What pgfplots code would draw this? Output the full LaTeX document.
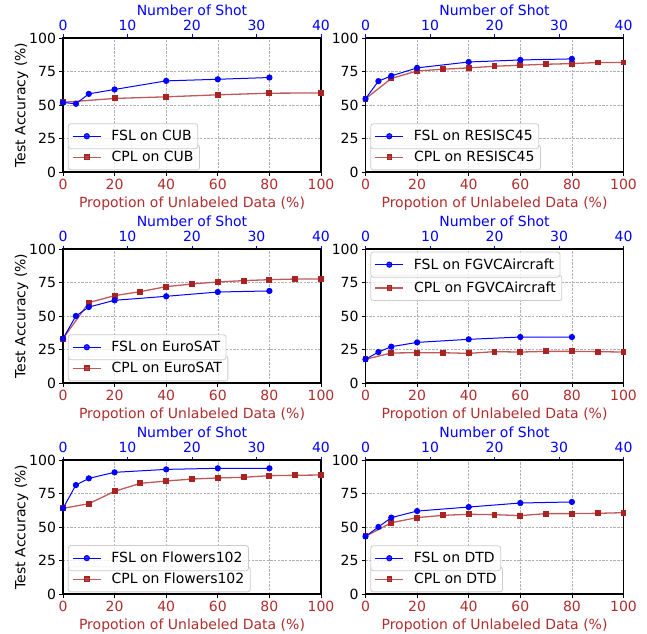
\documentclass[border=0pt]{standalone}
\usepackage{fontspec}
\setmainfont{DejaVu Sans}
\usepackage{pgfplots}
\usepackage{pgfplotstable}
\pgfplotsset{compat=1.18}
\definecolor{fslblue}{RGB}{0,0,255}
\definecolor{cplred}{RGB}{170,35,35}
\definecolor{cpltext}{RGB}{175,45,45}
\definecolor{gridgray}{RGB}{176,176,176}
\definecolor{legedge}{RGB}{204,204,204}

% ---------------- data ----------------
\pgfplotstableread{
x y
0 52.0
20 54.9
40 56.1
60 57.6
80 58.8
100 59.0
}\cubCPL
\pgfplotstableread{
s y
0 51.9
2 50.9
4 58.3
8 61.6
16 68.0
24 69.2
32 70.5
}\cubFSL
\pgfplotstableread{
x y
0 54.6
10 69.8
20 75.4
30 76.7
40 77.7
50 78.9
60 79.7
70 80.4
80 80.9
90 81.7
100 81.7
}\resCPL
\pgfplotstableread{
s y
0 54.6
2 67.8
4 71.7
8 77.7
16 82.1
24 83.6
32 84.4
}\resFSL
\pgfplotstableread{
x y
0 33.1
10 60.0
20 65.2
30 68.2
40 71.9
50 73.9
60 75.4
70 76.4
80 77.1
90 77.6
100 77.6
}\eurCPL
\pgfplotstableread{
s y
0 33.1
2 50.0
4 56.7
8 61.7
16 64.7
24 67.9
32 68.7
}\eurFSL
\pgfplotstableread{
x y
0 17.7
10 22.4
20 22.6
30 22.6
40 22.1
50 23.4
60 23.1
70 23.6
80 23.6
90 23.4
100 23.1
}\fgvCPL
\pgfplotstableread{
s y
0 17.7
2 23.1
4 27.1
8 30.3
16 32.6
24 34.3
32 34.3
}\fgvFSL
\pgfplotstableread{
x y
0 63.9
10 67.4
20 76.6
30 82.6
40 84.3
50 85.8
60 86.6
70 87.1
80 88.3
90 88.6
100 88.8
}\floCPL
\pgfplotstableread{
s y
0 63.9
2 81.3
4 86.3
8 90.8
16 93.0
24 93.8
32 93.8
}\floFSL
\pgfplotstableread{
x y
0 43.0
10 53.2
20 57.0
30 58.7
40 59.5
50 59.2
60 58.5
70 60.0
80 60.0
90 60.2
100 60.7
}\dtdCPL
\pgfplotstableread{
s y
0 43.0
2 50.0
4 57.0
8 61.9
16 64.9
24 67.9
32 68.7
}\dtdFSL

\newcommand{\fs}{\fontsize{14}{16}\selectfont}

\pgfplotsset{
  panelbase/.style={
    scale only axis, width=258pt, height=134pt,
    ymin=0, ymax=100, ytick={0,25,50,75,100},
    clip=false,
    /pgf/number format/assume math mode=true,
    tick label style={font=\fs},
    label style={font=\fs},
    tick align=outside,
    major tick length=3.5pt,
    legend image code/.code={\draw[mark repeat=2,mark phase=2,##1] plot coordinates {(0pt,0pt) (14pt,0pt) (28pt,0pt)};},
    legend style={font=\fs, draw=legedge, rounded corners=2.5pt, fill=white, fill opacity=0.8, text opacity=1,
      inner xsep=4pt, inner ysep=4.5pt, line width=0.8pt, cells={anchor=west}, column sep=8pt},
  },
  mainax/.style={panelbase,
    xmin=0, xmax=100, xtick={0,20,...,100},
    xtick pos=left, ytick pos=left,
    grid=major,
    grid style={gridgray, dash pattern=on 2.4pt off 1.3pt, line width=0.6pt},
    axis line style={line width=1.3pt},
    major tick style={line width=0.8pt, black},
    xlabel={Propotion of Unlabeled Data (\%)},
    xlabel style={text=cpltext},
    xticklabel style={text=cpltext},
    ylabel style={yshift=-6pt},
  },
  topax/.style={panelbase,
    xmin=0, xmax=40, xtick={0,10,...,40},
    axis x line*=top, axis y line=none,
    x axis line style={line width=1.3pt, black},
    major tick style={line width=0.8pt, fslblue},
    xlabel={Number of Shot},
    xlabel style={text=fslblue, yshift=-2pt},
    xticklabel style={text=fslblue},
  },
  fslplot/.style={fslblue, line width=1pt, mark=*, mark size=2.6pt, mark options={fill=fslblue, draw=fslblue}},
  cplplot/.style={cplred!75!white, line width=1.3pt, mark=square*, mark size=2.3pt, mark options={fill=cplred, draw=cplred}},
}

\newcommand{\panel}[8]{%
\begin{axis}[mainax, at={#1}, anchor=south west, ylabel={#5}, legend style={#7}]
\addplot[cplplot] table[x=x,y=y] {#2};
\addlegendentry{CPL on #4}
\end{axis}
\begin{axis}[topax, at={#1}, anchor=south west, legend style={#6}]
\addplot[fslplot] table[x=s,y=y] {#3};
\addlegendentry{FSL on #4}
\end{axis}
}

\begin{document}
\begin{tikzpicture}
\useasboundingbox (0,0) rectangle (647pt,633pt);
\panel{(63pt,461pt)}{\cubCPL}{\cubFSL}{CUB}{Test Accuracy (\%)}%
  {at={(0.019,0.171)},anchor=south west}{at={(0.019,0.013)},anchor=south west}{}
\panel{(365.5pt,461pt)}{\resCPL}{\resFSL}{RESISC45}{}%
  {at={(0.019,0.171)},anchor=south west}{at={(0.019,0.013)},anchor=south west}{}
\panel{(63pt,250pt)}{\eurCPL}{\eurFSL}{EuroSAT}{Test Accuracy (\%)}%
  {at={(0.019,0.171)},anchor=south west}{at={(0.019,0.013)},anchor=south west}{}
\panel{(365.5pt,250pt)}{\fgvCPL}{\fgvFSL}{FGVCAircraft}{}%
  {at={(0.019,0.98)},anchor=north west}{at={(0.019,0.806)},anchor=north west}{}
\panel{(63pt,39pt)}{\floCPL}{\floFSL}{Flowers102}{Test Accuracy (\%)}%
  {at={(0.019,0.171)},anchor=south west}{at={(0.019,0.013)},anchor=south west}{}
\panel{(365.5pt,39pt)}{\dtdCPL}{\dtdFSL}{DTD}{}%
  {at={(0.019,0.171)},anchor=south west}{at={(0.019,0.013)},anchor=south west}{}
\end{tikzpicture}
\end{document}
